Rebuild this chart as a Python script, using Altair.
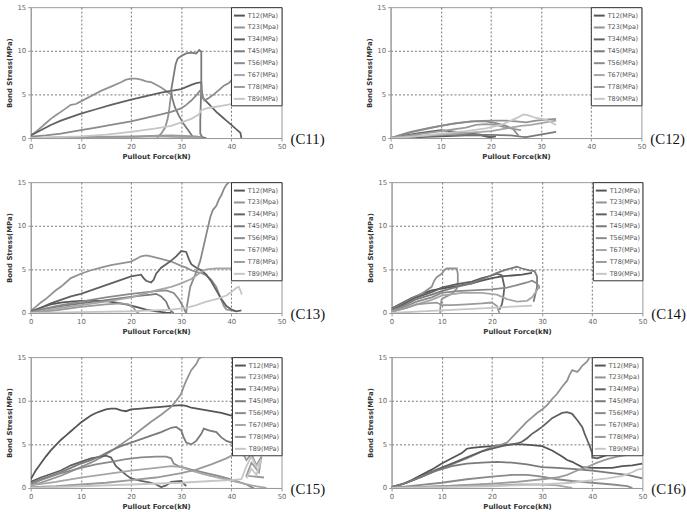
import altair as alt
import pandas as pd

# Gauge pairs along the bar and the grey shade each one is drawn in
SERIES = ["T12", "T23", "T34", "T45", "T56", "T67", "T78", "T89"]
SHADES = ["#555555", "#929292", "#606060", "#7a7a7a", "#8a8a8a", "#a6a6a6", "#9a9a9a", "#c6c6c6"]

X_TICKS = [0, 10, 20, 30, 40, 50]
Y_TICKS = [0, 5, 10, 15]

# Bond stress (MPa) against pullout force (kN), one list of (force, stress) per gauge pair
C11 = {
    "T12": [(0, 0), (5, 0.05), (10, 0.1), (15, 0.12), (18, 0.1), (19, 0)],
    "T23": [(0, 0.3), (1, 0.7), (2, 1.2), (3, 1.7), (4, 2.2), (5, 2.6), (6, 3.0), (7, 3.4), (8, 3.8),
            (9, 3.9), (10, 4.2), (12, 4.8), (14, 5.4), (16, 5.9), (18, 6.4), (19, 6.7), (20, 6.8),
            (21, 6.8), (22, 6.7), (23, 6.5), (24, 6.4), (25, 6.1), (26, 5.8), (27, 5.4), (28, 5.0),
            (27.8, 4.2), (27.6, 3.2), (27.3, 2.2), (26.8, 1.2), (26, 0.5), (25.3, 0.1), (25.2, 0)],
    "T34": [(0, 0.3), (2, 0.9), (4, 1.5), (6, 2.0), (8, 2.4), (10, 2.8), (13, 3.3), (16, 3.8), (20, 4.4),
            (23, 4.8), (26, 5.2), (28, 5.4), (30, 5.6), (32, 6.1), (33, 6.3), (34, 6.4), (34.1, 5.4),
            (34.3, 4.6), (35, 4.2), (36, 3.6), (37, 3.0), (38, 2.5), (39, 2.0), (40, 1.5), (41, 1.0),
            (41.8, 0.6), (42, 0.0)],
    "T45": [(32.5, 0), (31.5, 0.8), (30.5, 1.6), (29.5, 2.6), (28.7, 3.6), (28.2, 4.6), (28, 5.5),
            (28.3, 6.5), (28.6, 7.5), (28.9, 8.5), (29.3, 9.1), (30, 9.4), (31, 9.7), (32, 9.8),
            (33, 9.7), (33.6, 10.1), (34, 9.9), (34, 8), (34, 6), (33.9, 4), (33.8, 2), (33.8, 0.5),
            (34.2, 0.1), (35, 0)],
    "T56": [(0, 0.15), (3, 0.3), (6, 0.5), (8, 0.7), (10, 0.9), (13, 1.2), (16, 1.5), (20, 1.9),
            (23, 2.3), (26, 2.7), (28, 3.0), (30, 3.4), (31, 3.8), (32, 4.3), (33, 4.9), (34, 5.6),
            (34.2, 4.8), (34.6, 4.3), (35.5, 4.6), (36.5, 5.0), (37.5, 5.5), (38.5, 6.0), (39.5, 6.3),
            (40, 6.6), (40.5, 7.0)],
    "T67": [(0, 0), (10, 0.05), (20, 0.1), (25, 0.2), (30, 0.1), (33, 0.1), (34, 0)],
    "T78": [(0, 0), (10, 0.1), (20, 0.2), (28, 0.3), (33, 0.2), (34, 0.1)],
    "T89": [(0, 0), (5, 0.1), (10, 0.2), (15, 0.4), (20, 0.7), (25, 1.1), (28, 1.4), (30, 1.8),
            (32, 2.2), (33.5, 2.7), (34, 3.2), (35, 3.4), (36, 3.5), (38, 3.7), (40, 3.9), (41, 4.0)],
}

C12 = {
    "T12": [(0, 0), (5, 0.1), (10, 0.2), (15, 0.3), (18, 0.3), (20, 0.1)],
    "T23": [(0, 0), (3, 0.5), (6, 0.9), (10, 1.4), (13, 1.7), (17, 1.95), (20, 2.0), (23, 2.0),
            (25, 1.9), (27, 1.8), (29, 2.0), (31, 2.1), (33, 2.2)],
    "T34": [(0, 0), (3, 0.3), (6, 0.6), (10, 0.9), (13, 0.7), (16, 0.5), (18, 0.4), (19, 0.2),
            (20, 0.1), (21, 0.2)],
    "T45": [(0, 0), (5, 0.2), (10, 0.3), (15, 0.35), (20, 0.35), (24, 0.3), (26, 0.15), (27, 0.1),
            (29, 0.3), (31, 0.5), (33, 0.7)],
    "T56": [(0, 0), (4, 0.7), (8, 1.2), (12, 1.6), (16, 1.9), (19, 1.9), (21, 1.7), (23, 1.4),
            (24.5, 1.0), (25, 0.6), (25.5, 0.3)],
    "T67": [(0, 0), (5, 0.2), (10, 0.4), (15, 0.6), (18, 0.7), (20, 0.8), (22, 1.0), (24, 1.2),
            (26, 1.4), (28, 1.5), (30, 1.7), (32, 1.9), (33, 2.0)],
    "T78": [(0, 0), (5, 0.4), (10, 0.8), (15, 1.2), (17, 1.5), (19, 1.6), (21, 1.5), (23, 1.2),
            (25, 1.0), (26, 0.9)],
    "T89": [(0, 0), (5, 0.2), (10, 0.5), (15, 0.8), (19, 1.1), (22, 1.5), (24, 2.0), (25.5, 2.4),
            (26.5, 2.7), (27.5, 2.6), (29, 2.3), (31, 2.1), (33, 1.5)],
}

C13 = {
    "T12": [(0, 0.1), (2, 0.6), (4, 1.0), (6, 1.2), (8, 1.3), (10, 1.4), (13, 1.4), (15, 1.35),
            (17, 1.2), (19, 1.0), (21, 0.7), (23, 0.4), (25, 0.2), (27, 0.05), (28, 0)],
    "T23": [(0, 0.3), (1, 0.7), (2, 1.2), (3, 1.6), (4, 2.1), (5, 2.6), (6, 3.0), (7, 3.5), (8, 4.0),
            (10, 4.5), (12, 4.9), (14, 5.2), (16, 5.5), (18, 5.7), (20, 5.9), (21, 6.2), (22, 6.5),
            (23, 6.6), (24, 6.5), (26, 6.2), (28, 5.9), (30, 5.4), (31, 5.2), (32, 4.9), (33, 4.7),
            (34, 4.6), (35, 4.3), (36, 3.8), (37, 3.0), (37.5, 2.2), (38, 1.5), (38.5, 0.8), (39, 0.4),
            (40, 0.3), (41, 0.2)],
    "T34": [(0, 0.2), (2, 0.6), (4, 1.1), (6, 1.5), (8, 1.9), (10, 2.2), (12, 2.6), (14, 3.0),
            (16, 3.4), (18, 3.8), (20, 4.2), (22, 4.4), (22.5, 4.0), (23, 3.7), (24, 3.5), (24.5, 3.8),
            (25, 4.5), (26, 5.2), (27, 5.6), (28, 6.0), (29, 6.5), (30, 7.1), (31, 7.0), (31.5, 6.2),
            (32, 5.6), (33, 5.2), (34, 4.9), (35, 4.4), (36, 3.6), (37, 2.6), (38, 1.6), (39, 0.8),
            (40, 0.4), (41, 0.2), (42, 0.3)],
    "T45": [(0, 0.1), (3, 0.5), (6, 0.8), (10, 1.1), (14, 1.4), (18, 1.7), (22, 2.0), (24, 2.1),
            (25, 2.2), (26, 1.9), (27, 1.3), (27.5, 0.6), (28, 0.2), (28.5, 0)],
    "T56": [(0, 0.1), (5, 0.8), (10, 1.3), (15, 1.8), (20, 2.2), (25, 2.5), (27, 2.6), (28.5, 2.3),
            (29.5, 1.6), (30.3, 0.8), (30.8, 0.2), (31, 0), (31.2, 1.0), (31.5, 2.0), (31.8, 3.0),
            (32.5, 4.0), (33.2, 5.0), (33.8, 6.0), (34.2, 7.0), (34.6, 8.0), (35, 9.0), (35.4, 10.0),
            (35.8, 11.0), (36.3, 11.8), (37, 12.3), (37.5, 13.0), (38, 13.5), (38.5, 14.2), (39, 14.7),
            (39.5, 15), (40, 15)],
    "T67": [(0, 0), (5, 0.5), (10, 0.9), (15, 1.3), (20, 1.8), (25, 2.6), (28, 3.0), (30, 3.4),
            (32, 3.9), (33, 4.3), (34, 4.7), (35, 5.0), (37, 5.1), (40, 5.1)],
    "T78": [(0, 0), (5, 0.3), (10, 0.7), (15, 1.0), (18, 1.1), (19.5, 1.0), (20.5, 0.6), (21, 0.2),
            (21.5, 0)],
    "T89": [(0, 0), (10, 0.1), (20, 0.2), (28, 0.4), (31, 0.6), (33, 0.9), (35, 1.3), (37, 1.6),
            (39, 2.0), (40, 2.4), (41, 2.9), (41.5, 3.0), (42, 2.3), (42, 2.1)],
}

C14 = {
    "T12": [(0, 0.5), (2, 1.1), (4, 1.7), (6, 2.2), (8, 2.6), (10, 2.8), (12, 3.0), (14, 3.2),
            (16, 3.4), (18, 3.7), (20, 4.0), (22, 4.2), (24, 4.3), (26, 4.4), (28, 4.6)],
    "T23": [(0, 0.4), (2, 1.0), (4, 1.6), (6, 2.2), (8, 3.0), (8.5, 3.7), (9, 4.1), (10, 4.5),
            (10.5, 4.9), (11, 5.1), (13, 5.1), (13.2, 4.5), (13.2, 3.5), (13, 2.8), (12, 2.2),
            (10, 1.6), (9.8, 1.0), (9.7, 0.5), (9.7, 0)],
    "T34": [(0, 0.3), (3, 1.2), (5, 1.8), (8, 2.4), (10, 2.9), (13, 3.3), (16, 3.6), (18, 4.0),
            (20, 4.3), (21, 4.5), (22, 4.3), (22.5, 3.0), (22.3, 2.0), (22, 1.0), (21.5, 0.4)],
    "T45": [(0, 0.3), (3, 1.0), (5, 1.6), (8, 2.1), (10, 2.5), (13, 3.0), (16, 3.4), (19, 4.1),
            (21, 4.6), (23, 5.0), (25, 5.3), (26, 5.1), (27.5, 4.9), (28.5, 4.8), (29, 4.2), (29, 3.0),
            (28.6, 2.0), (28.3, 1.3)],
    "T56": [(0, 0.2), (3, 0.8), (5, 1.3), (8, 1.8), (10, 2.3), (13, 2.5), (16, 2.6), (20, 2.7),
            (23, 2.9), (25, 3.2), (27, 3.5), (28, 3.7), (29, 3.4), (29.5, 2.8)],
    "T67": [(0, 0.2), (3, 0.6), (5, 1.0), (8, 1.5), (10, 2.0), (14, 2.3), (18, 2.3), (21, 2.1),
            (23, 1.6), (25, 1.3), (27, 1.4), (28, 1.8), (29, 2.6), (29.5, 3.2)],
    "T78": [(0, 0.1), (3, 0.6), (5, 1.0), (7, 1.1), (9, 1.2), (10, 0.9), (12, 0.9), (15, 1.0),
            (18, 1.1), (20, 1.2), (21, 0.8), (21.3, 0.3), (21.5, 0)],
    "T89": [(0, 0), (5, 0.15), (10, 0.3), (15, 0.45), (20, 0.6), (25, 0.75), (28, 0.85)],
}

C15 = {
    "T12": [(0, 1.0), (0.5, 1.5), (1, 2.0), (2, 2.8), (3, 3.6), (4, 4.3), (5, 4.9), (6, 5.5), (7, 6.0),
            (8, 6.5), (9, 7.0), (10, 7.5), (11, 7.9), (12, 8.3), (13, 8.6), (14, 8.8), (15, 9.0),
            (16, 9.1), (17, 9.1), (18, 8.9), (19, 8.8), (20, 9.0), (22, 9.1), (24, 9.2), (26, 9.3),
            (28, 9.4), (30, 9.5), (31, 9.4), (32, 9.2), (34, 9.0), (36, 8.8), (38, 8.6), (40, 8.3),
            (41, 8.2)],
    "T23": [(0, 0.3), (2, 0.6), (4, 1.0), (6, 1.4), (8, 1.9), (10, 2.4), (12, 2.9), (14, 3.5),
            (16, 4.2), (18, 5.0), (20, 5.8), (22, 6.7), (24, 7.6), (26, 8.4), (28, 9.3), (29, 10.0),
            (30, 10.8), (30.5, 11.6), (31, 12.3), (31.5, 12.9), (32, 13.5), (33, 14.2), (33.5, 14.8),
            (34, 15), (34.5, 15)],
    "T34": [(0, 0.7), (2, 1.2), (4, 1.6), (6, 2.0), (8, 2.6), (10, 3.0), (12, 3.4), (14, 3.6),
            (15, 3.7), (16, 3.5), (16.5, 3.0), (17, 2.5), (18, 2.0), (19, 1.5), (20, 1.1), (22, 0.8),
            (24, 0.6), (25, 0.4), (26, 0.1), (27, 0.3), (28, 0.7), (30, 0.8), (30.5, 0.5), (31, 0.2)],
    "T45": [(0, 0.5), (2, 1.0), (4, 1.4), (6, 1.8), (8, 2.3), (10, 2.8), (12, 3.2), (14, 3.7),
            (16, 4.3), (18, 4.8), (20, 5.2), (22, 5.6), (24, 6.0), (26, 6.4), (28, 6.9), (29, 7.0),
            (30, 6.6), (30.5, 5.8), (31, 5.2), (32, 5.0), (33, 5.4), (34, 6.2), (34.5, 6.8),
            (35.5, 6.6), (37, 6.4), (38, 5.8), (39, 5.4), (40, 5.2), (41, 4.9)],
    "T56": [(0, 0.4), (2, 0.9), (4, 1.3), (6, 1.7), (8, 2.0), (10, 2.3), (13, 2.7), (16, 3.0),
            (19, 3.3), (22, 3.5), (25, 3.6), (27, 3.6), (28, 3.4), (28.5, 2.8), (29.5, 2.5), (32, 2.1),
            (35, 1.7), (38, 1.3), (41, 0.8), (43, 0.4), (44, 0.1), (44.5, 0)],
    "T67": [(0, 0.3), (5, 0.7), (10, 1.2), (15, 1.6), (20, 2.0), (25, 2.3), (28, 2.5), (30, 2.4),
            (32, 2.0), (35, 1.5), (38, 1.1), (41, 0.7), (44, 0.3), (46, 0.1), (47, 0)],
    "T78": [(0, 0.1), (5, 0.2), (10, 0.4), (15, 0.6), (20, 0.9), (25, 1.2), (30, 1.7), (33, 2.1),
            (36, 2.7), (39, 3.4), (41, 4.0), (42, 4.3), (43, 3.2), (44, 3.9), (45, 2.6), (46, 3.6),
            (45.5, 1.8), (44, 2.9), (43, 1.4), (46.5, 1.2)],
    "T89": [(0, 0), (10, 0.2), (20, 0.4), (30, 0.6), (36, 0.8), (40, 0.9), (42, 1.0), (43, 2.5),
            (44, 3.6), (45, 2.4), (46, 3.3), (45, 1.5), (44, 2.2), (43, 1.1)],
}

C16 = {
    "T12": [(0, 0.1), (2, 0.4), (4, 0.9), (6, 1.5), (8, 2.1), (10, 2.8), (12, 3.4), (14, 4.0),
            (15, 4.5), (16, 4.6), (18, 4.7), (20, 4.8), (22, 4.9), (24, 5.0), (26, 5.0), (28, 4.9),
            (30, 4.8), (32, 4.3), (34, 3.6), (35, 3.2), (36, 3.0), (37, 2.7), (38, 2.4), (40, 2.3),
            (42, 2.3), (44, 2.3), (46, 2.5), (48, 2.6), (50, 2.8)],
    "T23": [(0, 0.1), (3, 0.6), (6, 1.3), (9, 2.0), (12, 2.7), (15, 3.4), (18, 4.2), (20, 4.7),
            (22, 5.0), (23, 5.2), (24, 5.8), (25, 6.4), (26, 7.0), (27, 7.6), (28, 8.1), (29, 8.6),
            (30, 9.0), (31, 9.5), (32, 10.2), (33, 10.8), (34, 11.6), (35, 12.3), (35.5, 13.0),
            (36, 13.5), (37, 13.3), (37.5, 13.6), (38, 14.0), (39, 14.5), (39.5, 15), (40, 15)],
    "T34": [(0, 0.1), (3, 0.6), (6, 1.3), (9, 2.1), (12, 2.8), (15, 3.5), (18, 4.2), (20, 4.5),
            (22, 4.8), (24, 5.0), (25, 5.1), (26, 5.3), (27, 5.7), (28, 6.2), (29, 6.6), (30, 7.0),
            (31, 7.5), (32, 8.0), (33, 8.3), (34, 8.6), (35, 8.7), (36, 8.5), (37, 7.8), (38, 7.0),
            (38.5, 6.2), (39, 5.5), (39.5, 4.8), (40, 4.0), (40, 3.5), (41, 3.4), (42, 3.6), (44, 4.0),
            (46, 4.2), (48, 4.4), (50, 4.5)],
    "T45": [(0, 0.1), (3, 0.6), (6, 1.3), (9, 2.0), (12, 2.5), (15, 2.8), (18, 2.9), (21, 3.0),
            (24, 2.9), (27, 2.7), (30, 2.4), (33, 2.3), (36, 2.2), (40, 2.0), (44, 1.7), (47, 1.5),
            (50, 1.1)],
    "T56": [(0, 0), (5, 0.3), (10, 0.6), (15, 1.0), (20, 1.3), (24, 1.5), (27, 1.5), (30, 1.3),
            (33, 1.0), (36, 0.8), (40, 0.6), (44, 0.4), (47, 0.2), (48, 0)],
    "T67": [(0, 0), (5, 0.1), (10, 0.2), (15, 0.3), (20, 0.3), (25, 0.4), (30, 0.4), (33, 0.3),
            (35, 0.1), (36, 0)],
    "T78": [(0, 0), (5, 0.1), (10, 0.2), (15, 0.35), (20, 0.5), (25, 0.7), (30, 1.0), (33, 1.2),
            (35, 1.5), (37, 2.0), (39, 2.4), (41, 2.9), (43, 3.3), (45, 3.6), (47, 3.8), (49, 3.9),
            (50, 4.0)],
    "T89": [(0, 0), (10, 0.1), (20, 0.2), (30, 0.4), (36, 0.6), (40, 0.9), (43, 1.1), (46, 1.4),
            (48, 1.8), (49, 2.1), (50, 2.2)],
}

# (tag, data, unit text printed after T23 in that panel's legend)
PANELS = [
    ("(C11)", C11, "Mpa"), ("(C12)", C12, "Mpa"),
    ("(C13)", C13, "Mpa"), ("(C14)", C14, "MPa"),
    ("(C15)", C15, "MPa"), ("(C16)", C16, "Mpa"),
]

FONT = "DejaVu Sans"


def panel(tag, data, t23_unit):
    labels, rows = [], []
    for key in SERIES:
        label = f"{key}({t23_unit if key == 'T23' else 'MPa'})"
        labels.append(label)
        for i, (force, stress) in enumerate(data[key]):
            rows.append({"series": label, "seq": i, "force": force, "stress": stress})
    df = pd.DataFrame(rows)

    edge_grid = {"condition": {"test": "datum.value == 0 || datum.value == 50 || datum.value == 15",
                               "value": 0}, "value": 1}

    lines = alt.Chart(df).mark_line(strokeWidth=1.8, clip=True).encode(
        x=alt.X("force:Q", scale=alt.Scale(domain=[0, 50], nice=False),
                axis=alt.Axis(values=X_TICKS, title="Pullout Force(kN)", labelFlush=False,
                              titlePadding=3, gridOpacity=edge_grid)),
        y=alt.Y("stress:Q", scale=alt.Scale(domain=[0, 15], nice=False),
                axis=alt.Axis(values=Y_TICKS, title="Bond Stress(MPa)", labelFlush=False,
                              gridOpacity=edge_grid)),
        color=alt.Color("series:N", sort=labels,
                        scale=alt.Scale(domain=labels, range=SHADES),
                        legend=alt.Legend(title=None, orient="top-right", offset=0, padding=2,
                                          strokeColor="#333", fillColor="white",
                                          symbolType="stroke", symbolSize=121,
                                          symbolStrokeWidth=2, labelFont=FONT,
                                          labelFontSize=6.5, labelColor="#555",
                                          labelOffset=2, rowPadding=1)),
        order="seq:Q",
    )
    label = alt.Chart(pd.DataFrame({"tag": [tag]})).mark_text(
        font="Liberation Serif", fontSize=15, align="left", baseline="alphabetic", color="#111"
    ).encode(x=alt.value(262), y=alt.value(138), text="tag:N")
    return alt.layer(lines, label).properties(width=253, height=132)


rows = []
for r in range(3):
    left = panel(*PANELS[2 * r])
    right = panel(*PANELS[2 * r + 1])
    rows.append(alt.hconcat(left, right, spacing=40)
                .resolve_scale(color="independent").resolve_legend(color="independent"))

chart = (
    alt.vconcat(*rows, spacing=16.5)
    .resolve_scale(color="independent")
    .resolve_legend(color="independent")
    .properties(padding={"left": 5, "top": 0, "right": 0, "bottom": 0})
    .configure_axis(labelFont=FONT, labelFontSize=7, labelColor="#666", titleFont=FONT,
                    titleFontSize=7, titleFontWeight="bold", titleColor="#333",
                    domainColor="#999", tickColor="#999", tickSize=3, labelPadding=2,
                    titlePadding=4, grid=True, gridColor="#555", gridDash=[2, 2], gridWidth=0.8)
    .configure_view(stroke="#999", strokeWidth=1)
)

chart.save("out.html", embed_options={"renderer": "svg", "actions": False})
